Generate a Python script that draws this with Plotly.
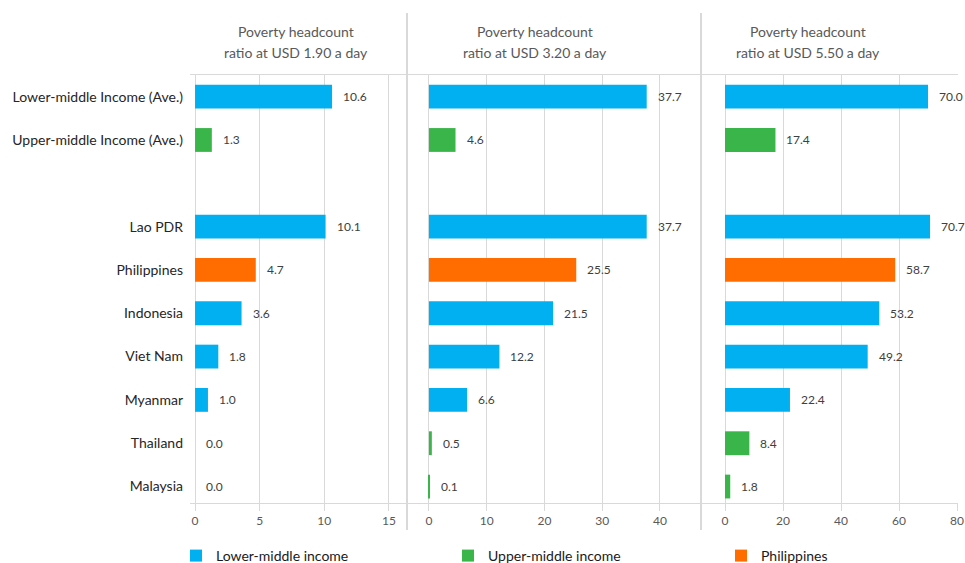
import plotly.graph_objects as go

# ---------------- data ----------------
categories = ["Lower-middle Income (Ave.)", "Upper-middle Income (Ave.)",
              "Lao PDR", "Philippines", "Indonesia", "Viet Nam",
              "Myanmar", "Thailand", "Malaysia"]
groups = ["Lower-middle income", "Upper-middle income",
          "Lower-middle income", "Philippines", "Lower-middle income",
          "Lower-middle income", "Lower-middle income",
          "Upper-middle income", "Upper-middle income"]
usd_190 = [10.6, 1.3, 10.1, 4.7, 3.6, 1.8, 1.0, 0.0, 0.0]
usd_320 = [37.7, 4.6, 37.7, 25.5, 21.5, 12.2, 6.6, 0.5, 0.1]
usd_550 = [70.0, 17.4, 70.7, 58.7, 53.2, 49.2, 22.4, 8.4, 1.8]
title_line1 = "Poverty headcount"
title_line2 = ["ratio at USD 1.90 a day",
               "ratio at USD 3.20 a day",
               "ratio at USD 5.50 a day"]
x_ticks = [[0, 5, 10, 15], [0, 10, 20, 30, 40], [0, 20, 40, 60, 80]]
legend_order = ["Lower-middle income", "Upper-middle income", "Philippines"]

# ---------------- styling ----------------
W, H = 965, 563
colors = {"Lower-middle income": "#00B0F0",
          "Upper-middle income": "#3AB54A",
          "Philippines": "#FF6D00"}
FONT = "Lato, 'Open Sans', sans-serif"
GRID = "#d9d9d9"

# row slots: leave an empty slot between the averages and the countries
slots = [i if i < 2 else i + 1 for i in range(len(categories))]

panels_px = [(190, 407), (407, 701), (701, 958)]
x_ranges = [[-0.39, 16.4], [-3.8, 47.1], [-8.28, 80.34]]
title_x_px = [296, 535, 808]
legend_x_px = [176, 448, 721]
legend_ids = ["legend", "legend2", "legend3"]
y_dom = [1 - 503 / H, 1 - 75 / H]

fig = go.Figure()
series = [usd_190, usd_320, usd_550]

annotations = []
for p, vals in enumerate(series):
    xa = "x" if p == 0 else f"x{p+1}"
    ya = "y" if p == 0 else f"y{p+1}"
    for gi, g in enumerate(legend_order):
        xs = [v for v, gg in zip(vals, groups) if gg == g]
        ys = [s for s, gg in zip(slots, groups) if gg == g]
        fig.add_trace(go.Bar(
            x=xs, y=ys, orientation="h", name=g,
            marker=dict(color=colors[g], line=dict(width=0)),
            width=0.55, xaxis=xa, yaxis=ya,
            showlegend=(p == 0), legend=legend_ids[gi],
            legendgroup=g, hoverinfo="x+name"))
    for v, s in zip(vals, slots):
        annotations.append(dict(
            x=v, y=s, xref=xa, yref=ya, text=f"{v:.1f}", showarrow=False,
            xanchor="left", yanchor="middle", xshift=9,
            font=dict(family=FONT, size=12, color="#404040")))
    for txt, ypx in ((title_line1, 32), (title_line2[p], 52)):
        annotations.append(dict(
            x=title_x_px[p] / W, y=1 - ypx / H, xref="paper", yref="paper",
            text=txt, showarrow=False, xanchor="center",
            yanchor="middle", align="center",
            font=dict(family=FONT, size=14, color="#595959")))

layout = dict(
    width=W, height=H, margin=dict(l=0, r=0, t=0, b=0, autoexpand=False),
    paper_bgcolor="white", plot_bgcolor="white",
    barmode="overlay", font=dict(family=FONT),
    annotations=annotations,
    shapes=[dict(type="line", xref="paper", yref="paper",
                 x0=xp / W, x1=xp / W, y0=1 - 530 / H, y1=1 - 13 / H,
                 line=dict(color=GRID, width=2)) for xp in (407, 701)],
)
for gi, lid in enumerate(legend_ids):
    layout[lid] = dict(
        orientation="h", xref="container", yref="container",
        x=legend_x_px[gi] / W, y=1 - 556 / H,
        xanchor="left", yanchor="middle",
        font=dict(family=FONT, size=14, color="#1a1a1a"),
        bgcolor="rgba(0,0,0,0)")

for p in range(3):
    xkey = "xaxis" if p == 0 else f"xaxis{p+1}"
    ykey = "yaxis" if p == 0 else f"yaxis{p+1}"
    ya = "y" if p == 0 else f"y{p+1}"
    xa = "x" if p == 0 else f"x{p+1}"
    layout[xkey] = dict(
        domain=[panels_px[p][0] / W, panels_px[p][1] / W],
        range=x_ranges[p], anchor=ya, tickvals=x_ticks[p],
        showgrid=True, gridcolor=GRID, gridwidth=1, zeroline=False,
        showline=True, linecolor=GRID, linewidth=1, mirror=True,
        ticks="outside", ticklen=7, tickcolor=GRID,
        tickfont=dict(family=FONT, size=12, color="#595959"),
        fixedrange=True)
    layout[ykey] = dict(
        domain=y_dom, range=[9.38, -0.5], anchor=xa,
        tickvals=slots if p == 0 else [],
        ticktext=categories if p == 0 else [],
        showticklabels=(p == 0), showgrid=False, zeroline=False,
        showline=False, ticks="", ticklabelstandoff=6,
        tickfont=dict(family=FONT, size=14, color="#262626"),
        fixedrange=True)

fig.update_layout(**layout)
fig.write_html("out.html")
